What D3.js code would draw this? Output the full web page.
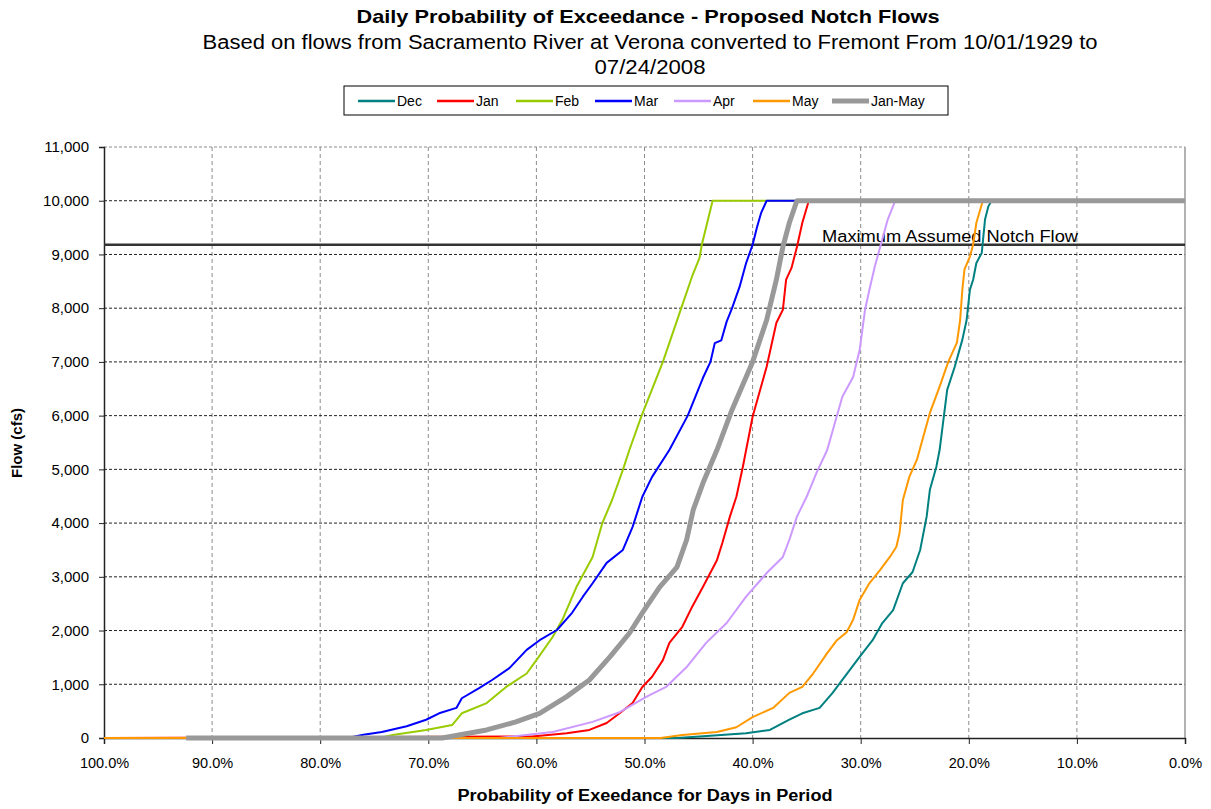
<!DOCTYPE html>
<html>
<head>
<meta charset="utf-8">
<script src="https://cdn.jsdelivr.net/npm/d3@7"></script>
<style>
  html, body { margin: 0; padding: 0; background: #fff; }
  svg { display: block; font-family: "Liberation Sans", Arial, sans-serif; }
</style>
</head>
<body>
<svg id="chart" width="1211" height="809"></svg>
<script>
// ---------------- DATA ----------------
const seriesNames = ["Dec", "Jan", "Feb", "Mar", "Apr", "May", "Jan-May"];

const decProb = [100, 47, 44.9, 40.6, 38.4, 36.6, 35.4, 33.8, 32.6, 31.7, 30.1, 28.9, 28.0, 27.0, 26.1, 25.2, 24.5, 23.9, 23.6, 23.0, 22.7, 22.0, 21.3, 20.6, 20.2, 19.9, 19.6, 19.3, 18.8, 18.5, 18.2, 17.9, 0];
const decFlow = [0, 0, 30, 90, 150, 340, 460, 560, 840, 1080, 1510, 1820, 2140, 2380, 2880, 3090, 3500, 4120, 4620, 5050, 5360, 6480, 6910, 7410, 7780, 8340, 8530, 8840, 9030, 9650, 9890, 10000, 10000];

const janProb = [100, 60.4, 57.2, 55.1, 53.5, 52.3, 51.1, 50.2, 49.3, 48.3, 47.7, 46.5, 45.6, 44.6, 43.3, 42.8, 42.1, 41.5, 40.9, 40.0, 38.7, 37.8, 37.2, 36.9, 36.4, 35.9, 35.4, 34.8, 0];
const janFlow = [0, 30, 90, 150, 280, 460, 650, 950, 1140, 1450, 1770, 2070, 2440, 2810, 3310, 3630, 4120, 4490, 5050, 5980, 6910, 7730, 7970, 8530, 8750, 9140, 9590, 10000, 10000];

const febProb = [100, 74.5, 73.3, 70.2, 67.8, 66.9, 64.6, 62.8, 60.9, 60.0, 58.5, 57.6, 56.3, 54.8, 53.9, 53.0, 52.0, 51.4, 50.3, 48.3, 46.6, 45.6, 44.9, 44.7, 44.2, 43.7, 0];
const febFlow = [0, 0, 56, 150, 240, 460, 650, 950, 1200, 1450, 1880, 2200, 2810, 3370, 4000, 4430, 4990, 5360, 5980, 7000, 8000, 8590, 8940, 9180, 9590, 10000, 10000];

const marProb = [100, 77.5, 76.0, 74.3, 72.0, 70.2, 69.0, 67.4, 66.9, 65.3, 64.1, 62.5, 60.9, 59.7, 58.1, 56.7, 55.7, 54.8, 53.5, 52.0, 51.1, 50.2, 49.3, 47.7, 46.0, 44.6, 43.9, 43.5, 42.9, 42.4, 41.9, 41.2, 40.6, 40.0, 39.6, 39.2, 38.7, 0];
const marFlow = [0, 0, 60, 110, 220, 340, 460, 560, 740, 930, 1080, 1300, 1640, 1820, 2010, 2330, 2630, 2880, 3260, 3500, 3930, 4490, 4860, 5360, 6000, 6700, 7000, 7350, 7400, 7750, 8000, 8400, 8840, 9180, 9500, 9780, 10000, 10000];

const aprProb = [100, 63.5, 58.5, 54.8, 52.3, 49.8, 48.0, 46.1, 44.3, 42.4, 40.6, 38.7, 37.2, 36.6, 35.9, 35.0, 34.1, 33.1, 31.7, 30.7, 30.1, 29.6, 29.2, 28.7, 28.2, 27.5, 26.8, 0];
const aprFlow = [0, 0, 110, 300, 480, 770, 950, 1320, 1770, 2140, 2630, 3070, 3370, 3690, 4120, 4490, 4930, 5360, 6350, 6720, 7220, 7970, 8340, 8770, 9140, 9650, 10000, 10000];

const mayProb = [100, 48.5, 46.5, 43.3, 41.5, 40.0, 38.1, 36.6, 35.4, 34.4, 33.1, 32.2, 31.3, 30.7, 30.1, 29.2, 28.2, 27.3, 26.7, 26.4, 26.1, 25.5, 24.8, 23.6, 22.7, 21.9, 21.1, 20.8, 20.6, 20.4, 19.9, 19.6, 19.3, 18.7, 0];
const mayFlow = [0, 0, 56, 110, 200, 390, 560, 840, 950, 1200, 1580, 1820, 1970, 2200, 2570, 2880, 3130, 3370, 3560, 3820, 4430, 4860, 5180, 6050, 6540, 7000, 7360, 7780, 8340, 8720, 8960, 9180, 9590, 10000, 10000];

const janMayProb = [92.4, 68.7, 64.6, 61.9, 59.7, 57.2, 55.1, 53.2, 51.4, 50.2, 48.6, 47.0, 46.1, 45.5, 44.6, 43.3, 41.9, 40.0, 38.7, 37.8, 37.2, 36.6, 35.9, 0];
const janMayFlow = [0, 0, 150, 300, 460, 770, 1080, 1510, 1950, 2330, 2810, 3180, 3690, 4240, 4740, 5360, 6110, 7000, 7780, 8530, 9140, 9590, 10000, 10000];

const notchFlow = 9180;
const yTicks = [0, 1000, 2000, 3000, 4000, 5000, 6000, 7000, 8000, 9000, 10000, 11000];
const xTicks = [100, 90, 80, 70, 60, 50, 40, 30, 20, 10, 0];

const titleText = "Daily Probability of Exceedance - Proposed Notch Flows";
const subtitle1 = "Based on flows from Sacramento River at Verona converted to Fremont From 10/01/1929 to";
const subtitle2 = "07/24/2008";
const xTitle = "Probability of Exeedance for Days in Period";
const yTitle = "Flow (cfs)";
const notchLabel = "Maximum Assumed Notch Flow";

// ---------------- CHART ----------------
const colors = ["#008080", "#ff0000", "#99cc00", "#0000ff", "#cc99ff", "#ff9900", "#999999"];
const widths = [2, 2, 2, 2, 2, 2, 5];
const probs = [decProb, janProb, febProb, marProb, aprProb, mayProb, janMayProb];
const flows = [decFlow, janFlow, febFlow, marFlow, aprFlow, mayFlow, janMayFlow];

const L = 104, R = 1185, T = 147, B = 738;
const svg = d3.select("#chart");
const x = d3.scaleLinear().domain([100, 0]).range([L, R]);
const y = d3.scaleLinear().domain([0, 11000]).range([B, T]);

// Grid
const g = svg.append("g");
g.selectAll(".vg").data(xTicks.filter(d => d !== 100 && d !== 0)).enter().append("line")
  .attr("x1", d => x(d)).attr("x2", d => x(d)).attr("y1", T).attr("y2", B)
  .attr("stroke", "#8c8c8c").attr("stroke-width", 1).attr("stroke-dasharray", "4,3");
g.selectAll(".hg").data(yTicks.filter(d => d !== 0)).enter().append("line")
  .attr("x1", L).attr("x2", R).attr("y1", d => y(d)).attr("y2", d => y(d))
  .attr("stroke", d => d === 11000 ? "#8c8c8c" : "#222").attr("stroke-width", 1).attr("stroke-dasharray", "3,2");
// right border
g.append("line").attr("x1", R).attr("x2", R).attr("y1", T).attr("y2", B)
  .attr("stroke", "#999").attr("stroke-width", 1.5);

// Axes
const yAxis = d3.axisLeft(y).tickValues(yTicks).tickSize(5).tickPadding(10).tickFormat(d3.format(","));
const ya = svg.append("g").attr("transform", `translate(${L},0)`).call(yAxis);
ya.select(".domain").attr("stroke", "#222").attr("stroke-width", 1.5);
ya.selectAll(".tick line").attr("stroke", "#222");
ya.selectAll("text").attr("font-size", 15).attr("fill", "#000").attr("font-family", "Liberation Sans, Arial, sans-serif");

const xAxis = d3.axisBottom(x).tickValues(xTicks).tickSize(6).tickPadding(14).tickFormat(d => d3.format(".1f")(d) + "%");
const xa = svg.append("g").attr("transform", `translate(0,${B})`).call(xAxis);
xa.select(".domain").attr("stroke", "#222").attr("stroke-width", 1.5);
xa.selectAll(".tick line").attr("stroke", "#222");
xa.selectAll("text").attr("font-size", 14.5).attr("fill", "#000").attr("font-family", "Liberation Sans, Arial, sans-serif");

// Notch line
svg.append("line").attr("x1", L).attr("x2", R).attr("y1", y(notchFlow)).attr("y2", y(notchFlow))
  .attr("stroke", "#333").attr("stroke-width", 2.5);
svg.append("text").attr("x", 822).attr("y", y(notchFlow) - 3).attr("font-size", 16)
  .attr("textLength", 256).attr("lengthAdjust", "spacingAndGlyphs").text(notchLabel);

// Series
const line = d3.line().x(d => x(d[0])).y(d => y(d[1]));
seriesNames.forEach((name, i) => {
  const pts = probs[i].map((p, j) => [p, flows[i][j]]);
  svg.append("path").datum(pts).attr("d", line).attr("fill", "none")
    .attr("stroke", colors[i]).attr("stroke-width", widths[i]).attr("stroke-linejoin", "round");
});

// Titles
svg.append("text").attr("x", 648).attr("y", 23).attr("text-anchor", "middle").attr("font-size", 18.5)
  .attr("font-weight", "bold").attr("textLength", 583).attr("lengthAdjust", "spacingAndGlyphs").text(titleText);
svg.append("text").attr("x", 650).attr("y", 49).attr("text-anchor", "middle").attr("font-size", 19.5)
  .attr("textLength", 895).attr("lengthAdjust", "spacingAndGlyphs").text(subtitle1);
svg.append("text").attr("x", 650).attr("y", 74).attr("text-anchor", "middle").attr("font-size", 19.5)
  .attr("textLength", 111).attr("lengthAdjust", "spacingAndGlyphs").text(subtitle2);
svg.append("text").attr("x", 645).attr("y", 801).attr("text-anchor", "middle").attr("font-size", 16)
  .attr("font-weight", "bold").attr("textLength", 375).attr("lengthAdjust", "spacingAndGlyphs").text(xTitle);
svg.append("text").attr("transform", "translate(22,443) rotate(-90)").attr("text-anchor", "middle")
  .attr("font-size", 15).attr("font-weight", "bold").text(yTitle);

// Legend
const lg = svg.append("g");
lg.append("rect").attr("x", 344).attr("y", 86).attr("width", 604).attr("height", 29)
  .attr("fill", "#fff").attr("stroke", "#000").attr("stroke-width", 1);
const legX = d3.scalePoint().domain(seriesNames).range([358, 832]);
seriesNames.forEach((name, i) => {
  const lx = legX(name);
  lg.append("line").attr("x1", lx).attr("x2", lx + 37).attr("y1", 101).attr("y2", 101)
    .attr("stroke", colors[i]).attr("stroke-width", widths[i] === 5 ? 5 : 2.5);
  lg.append("text").attr("x", lx + 39).attr("y", 106).attr("font-size", 14).text(name);
});
</script>
</body>
</html>
